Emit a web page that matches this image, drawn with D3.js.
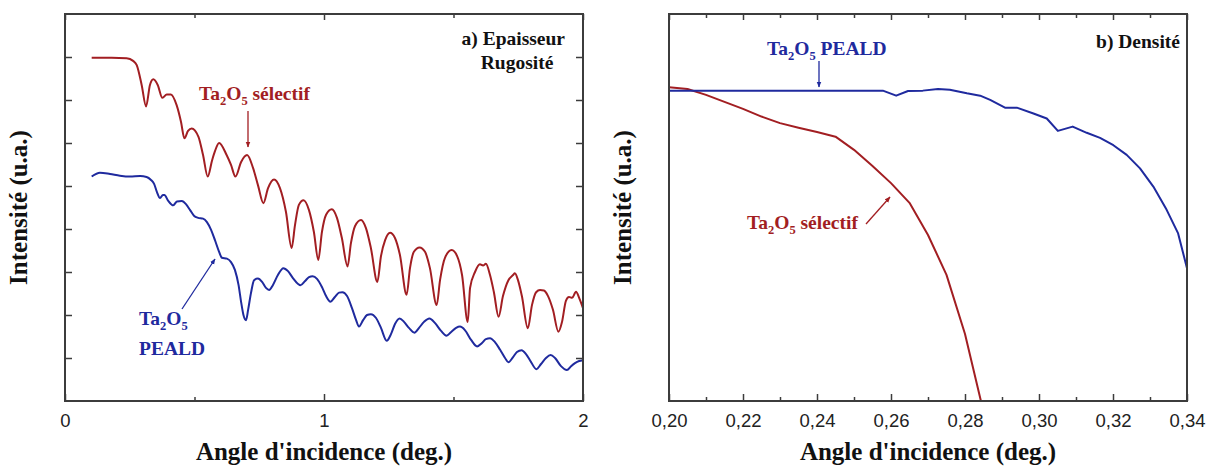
<!DOCTYPE html>
<html>
<head>
<meta charset="utf-8">
<script src="https://cdn.jsdelivr.net/npm/d3@7"></script>
<style>
  html, body { margin: 0; padding: 0; background: #ffffff; }
  svg { display: block; }
  .serif { font-family: "Liberation Serif", "DejaVu Serif", serif; font-weight: bold; }
  .sans { font-family: "Liberation Sans", Arial, sans-serif; }
</style>
</head>
<body>
<script>
// ---------------- DATA ----------------
// Panel a) Epaisseur / Rugosité — angle (deg.) and intensity (arb. units)
const selectifAngleA = [0.103,0.180,0.238,0.263,0.277,0.296,0.313,0.328,0.341,0.358,0.376,0.393,0.409,0.431,0.448,0.461,0.475,0.489,0.515,0.533,0.551,0.568,0.579,0.595,0.624,0.641,0.658,0.680,0.703,0.726,0.745,0.766,0.784,0.807,0.830,0.853,0.875,0.888,0.903,0.921,0.942,0.961,0.978,0.992,1.008,1.030,1.050,1.069,1.091,1.104,1.120,1.143,1.162,1.181,1.206,1.220,1.236,1.255,1.274,1.293,1.319,1.332,1.347,1.369,1.390,1.409,1.435,1.448,1.467,1.493,1.514,1.533,1.555,1.564,1.583,1.602,1.614,1.625,1.641,1.656,1.674,1.691,1.712,1.730,1.737,1.749,1.764,1.787,1.803,1.819,1.834,1.849,1.865,1.884,1.905,1.919,1.934,1.946,1.958,1.973,1.985,2.000];
const selectifIntensityA = [7.98,7.98,7.97,7.91,7.81,7.35,6.85,7.35,7.48,7.35,7.05,7.13,7.13,6.88,6.49,6.11,6.28,6.34,6.15,5.72,5.22,5.60,5.81,6.00,5.72,5.49,5.22,5.56,5.72,5.42,5.02,4.60,4.95,5.15,4.95,4.40,3.56,4.09,4.56,4.67,4.44,3.93,3.28,3.93,4.33,4.46,4.26,3.79,3.13,3.67,4.07,4.21,4.02,3.56,2.77,3.37,3.74,3.91,3.79,3.40,2.47,3.09,3.47,3.57,3.47,3.09,2.23,2.81,3.33,3.51,3.37,2.93,1.84,2.63,3.00,3.18,3.15,3.19,2.93,2.53,1.96,2.44,2.81,2.93,2.97,2.81,2.44,1.69,2.23,2.53,2.58,2.57,2.44,2.12,1.61,1.84,2.33,2.42,2.40,2.54,2.40,2.16];

const pealdAngleA = [0.103,0.135,0.174,0.212,0.251,0.290,0.315,0.332,0.344,0.355,0.367,0.378,0.384,0.398,0.418,0.432,0.451,0.467,0.483,0.498,0.514,0.533,0.548,0.564,0.579,0.595,0.606,0.625,0.641,0.656,0.670,0.680,0.689,0.699,0.707,0.718,0.730,0.745,0.761,0.776,0.788,0.803,0.822,0.843,0.861,0.880,0.900,0.909,0.927,0.942,0.956,0.973,0.992,1.008,1.025,1.042,1.058,1.071,1.089,1.108,1.124,1.135,1.151,1.166,1.181,1.201,1.220,1.242,1.259,1.274,1.292,1.309,1.328,1.349,1.367,1.386,1.407,1.429,1.452,1.473,1.490,1.510,1.525,1.544,1.568,1.591,1.610,1.625,1.641,1.660,1.680,1.699,1.712,1.730,1.745,1.763,1.780,1.799,1.820,1.838,1.857,1.875,1.892,1.915,1.938,1.954,1.969,1.985,2.000];
const pealdIntensityA = [5.22,5.31,5.28,5.24,5.22,5.23,5.21,5.14,5.05,4.86,4.72,4.79,4.79,4.66,4.55,4.64,4.65,4.58,4.44,4.31,4.26,4.24,4.16,3.98,3.74,3.47,3.33,3.31,3.23,3.05,2.70,2.30,2.00,1.88,2.12,2.51,2.81,2.85,2.77,2.63,2.58,2.70,2.93,3.09,3.02,2.86,2.72,2.69,2.79,2.88,2.90,2.84,2.65,2.44,2.31,2.42,2.52,2.53,2.44,2.16,1.88,1.73,1.88,2.00,2.02,1.93,1.70,1.40,1.56,1.79,1.92,1.84,1.70,1.59,1.70,1.84,1.92,1.81,1.63,1.52,1.60,1.70,1.73,1.65,1.42,1.27,1.35,1.44,1.46,1.37,1.19,1.00,0.90,1.02,1.14,1.18,1.09,0.91,0.74,0.86,1.00,1.07,1.00,0.81,0.72,0.81,0.88,0.93,0.95];

// Panel b) Densité
const selectifAngleB = [0.200,0.205,0.210,0.215,0.220,0.225,0.230,0.235,0.240,0.245,0.250,0.255,0.260,0.265,0.270,0.275,0.280,0.285];
const selectifIntensityB = [81.1,80.6,79.1,77.3,75.5,73.5,71.8,70.6,69.5,68.3,64.9,60.7,56.3,51.2,42.9,32.6,17.3,-2.8];

const pealdAngleB = [0.2000,0.2578,0.2614,0.2646,0.2686,0.2727,0.2759,0.2805,0.2841,0.2868,0.2908,0.2940,0.2985,0.3021,0.3051,0.3091,0.3129,0.3165,0.3201,0.3237,0.3273,0.3309,0.3345,0.3376,0.3400];
const pealdIntensityB = [80.2,80.2,78.9,80.1,80.2,80.6,80.4,79.5,78.9,77.8,75.8,75.8,74.3,73.0,69.8,70.9,69.3,68.0,66.1,63.6,60.1,55.4,49.4,43.3,34.3];

// Tick labels
const xTickValuesA = [0, 1, 2];
const xTickLabelsA = ["0", "1", "2"];
const xTickValuesB = [0.20, 0.22, 0.24, 0.26, 0.28, 0.30, 0.32, 0.34];
const xTickLabelsB = ["0,20", "0,22", "0,24", "0,26", "0,28", "0,30", "0,32", "0,34"];
const yTickValuesA = [1, 2, 3, 4, 5, 6, 7, 8];

// ---------------- DRAW ----------------
const W = 1215, H = 469;
const RED = "#a21e22", BLUE = "#1f2a9e", FRAME = "#3c3c3c";

const svg = d3.select("body").append("svg").attr("width", W).attr("height", H);
svg.append("rect").attr("width", W).attr("height", H).attr("fill", "#fff");
const defs = svg.append("defs");
function marker(id, color) {
  defs.append("marker").attr("id", id).attr("viewBox", "0 0 10 10")
    .attr("refX", 9).attr("refY", 5).attr("markerWidth", 6).attr("markerHeight", 6)
    .attr("markerUnits", "userSpaceOnUse").attr("orient", "auto")
    .append("path").attr("d", "M0,1 L10,5 L0,9 Z").attr("fill", color);
}
marker("arrRed", RED); marker("arrBlue", BLUE);

const plotTop = 14, plotBottom = 401;

function zip(a, b) { return a.map((v, i) => [v, b[i]]); }

function panel(opt) {
  const g = svg.append("g");
  const x = d3.scaleLinear().domain(opt.xDomain).range([opt.left, opt.right]);
  const y = d3.scaleLinear().domain(opt.yDomain).range([plotBottom, plotTop]);
  const clipId = opt.id + "clip";
  defs.append("clipPath").attr("id", clipId).append("rect")
    .attr("x", opt.left).attr("y", plotTop).attr("width", opt.right - opt.left).attr("height", plotBottom - plotTop);

  const line = d3.line().x(d => x(d[0])).y(d => y(d[1])).curve(opt.curve);
  opt.series.forEach(s => {
    g.append("path").attr("d", line(zip(s.x, s.y))).attr("fill", "none")
      .attr("stroke", s.color).attr("stroke-width", 2).attr("stroke-linejoin", "round")
      .attr("clip-path", `url(#${clipId})`);
  });

  // axes (ticks inward)
  const bottomAxis = d3.axisBottom(x).tickValues(opt.xMinor).tickSize(-4).tickFormat("");
  const bottomMajor = d3.axisBottom(x).tickValues(opt.xTicks).tickSize(-7)
    .tickFormat((d, i) => opt.xLabels[i]).tickPadding(13);
  const topAxis = d3.axisTop(x).tickValues(opt.xMinor).tickSize(-4).tickFormat("");
  const topMajor = d3.axisTop(x).tickValues(opt.xTicks).tickSize(-6).tickFormat("");
  [[bottomAxis, plotBottom], [bottomMajor, plotBottom], [topAxis, plotTop], [topMajor, plotTop]].forEach(([ax, yy]) => {
    const a = g.append("g").attr("transform", `translate(0,${yy})`).call(ax);
    a.attr("font-family", null).attr("font-size", null);
    a.select(".domain").remove();
    a.selectAll("line").attr("stroke", FRAME).attr("stroke-width", 1.5);
    a.selectAll("text").attr("class", "sans").style("font-size", "18.5px").attr("fill", "#222");
  });
  if (opt.yTicks) {
    const l = g.append("g").attr("transform", `translate(${opt.left},0)`)
      .call(d3.axisLeft(y).tickValues(opt.yTicks).tickSize(-7).tickFormat(""));
    const r = g.append("g").attr("transform", `translate(${opt.right},0)`)
      .call(d3.axisRight(y).tickValues(opt.yTicks).tickSize(-7).tickFormat(""));
    [l, r].forEach(a => { a.select(".domain").remove(); a.selectAll("line").attr("stroke", FRAME).attr("stroke-width", 1.5); });
  }
  g.append("rect").attr("x", opt.left).attr("y", plotTop).attr("width", opt.right - opt.left)
    .attr("height", plotBottom - plotTop).attr("fill", "none").attr("stroke", FRAME).attr("stroke-width", 2);

  // axis titles
  g.append("text").attr("class", "serif").attr("x", (opt.left + opt.right) / 2).attr("y", 460)
    .attr("text-anchor", "middle").style("font-size", "25px").attr("fill", "#111")
    .text("Angle d'incidence (deg.)");
  g.append("text").attr("class", "serif")
    .attr("transform", `translate(${opt.left - 38},${(plotTop + plotBottom) / 2}) rotate(-90)`)
    .attr("text-anchor", "middle").style("font-size", "25px").attr("fill", "#111").text("Intensité (u.a.)");
  return { g, x, y };
}

panel({
  id: "a", left: 65, right: 583, xDomain: [0, 2], yDomain: [0, 9],
  xTicks: xTickValuesA, xLabels: xTickLabelsA, xMinor: [0.5, 1.5], yTicks: yTickValuesA,
  curve: d3.curveMonotoneX,
  series: [
    { x: selectifAngleA, y: selectifIntensityA, color: RED },
    { x: pealdAngleA, y: pealdIntensityA, color: BLUE }
  ]
});
panel({
  id: "b", left: 669, right: 1187, xDomain: [0.20, 0.34], yDomain: [0, 100],
  xTicks: xTickValuesB, xLabels: xTickLabelsB, xMinor: [0.21, 0.23, 0.25, 0.27, 0.29, 0.31, 0.33], yTicks: null,
  curve: d3.curveLinear,
  series: [
    { x: selectifAngleB, y: selectifIntensityB, color: RED },
    { x: pealdAngleB, y: pealdIntensityB, color: BLUE }
  ]
});

// ---------------- ANNOTATIONS ----------------
function label(x, y, color, parts, anchor) {
  const t = svg.append("text").attr("class", "serif").attr("x", x).attr("y", y).attr("fill", color)
    .style("font-size", "19.5px").attr("text-anchor", anchor || "start");
  parts.forEach(p => {
    if (p.sub) t.append("tspan").style("font-size", "12.5px").attr("dy", 5).text(p.sub);
    else t.append("tspan").attr("dy", p.after ? -5 : 0).text(p.t);
  });
  return t;
}
function arrow(x1, y1, x2, y2, color, id) {
  svg.append("line").attr("x1", x1).attr("y1", y1).attr("x2", x2).attr("y2", y2)
    .attr("stroke", color).attr("stroke-width", 1.3).attr("marker-end", `url(#${id})`);
}

label(565, 45, "#111", [{ t: "a) Epaisseur" }], "end");
label(517, 69, "#111", [{ t: "Rugosité" }], "middle");
label(1180, 48, "#111", [{ t: "b) Densité" }], "end");

// left panel
label(199, 100, RED, [{ t: "Ta" }, { sub: "2" }, { t: "O", after: true }, { sub: "5" }, { t: " sélectif", after: true }]);
arrow(248, 111, 248, 147, RED, "arrRed");
label(139, 325, BLUE, [{ t: "Ta" }, { sub: "2" }, { t: "O", after: true }, { sub: "5" }]);
label(139, 355, BLUE, [{ t: "PEALD" }]);
arrow(182, 309, 215, 259, BLUE, "arrBlue");

// right panel
label(767, 55, BLUE, [{ t: "Ta" }, { sub: "2" }, { t: "O", after: true }, { sub: "5" }, { t: " PEALD", after: true }]);
arrow(819, 61, 819, 87, BLUE, "arrBlue");
label(747, 229, RED, [{ t: "Ta" }, { sub: "2" }, { t: "O", after: true }, { sub: "5" }, { t: " sélectif", after: true }]);
arrow(866, 224, 890, 197, RED, "arrRed");
</script>
</body>
</html>
